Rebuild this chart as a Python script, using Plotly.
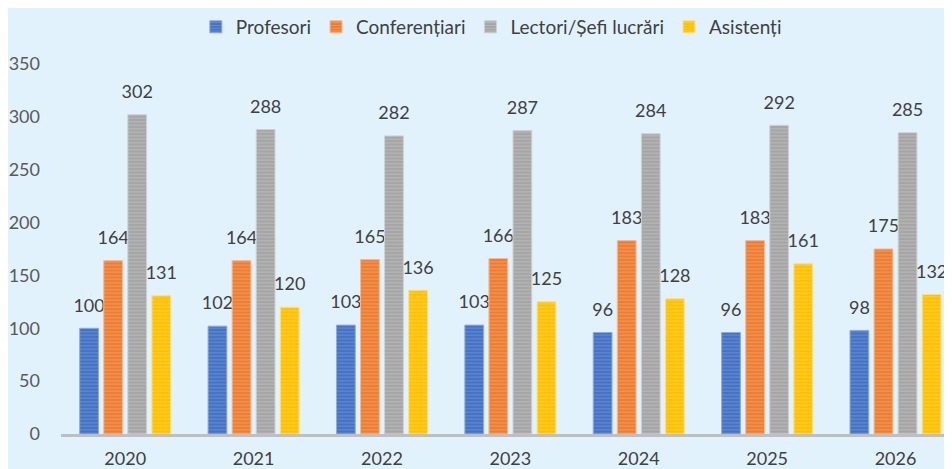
import plotly.graph_objects as go

years = ["2020", "2021", "2022", "2023", "2024", "2025", "2026"]
profesori = [100, 102, 103, 103, 96, 96, 98]
conferentiari = [164, 164, 165, 166, 183, 183, 175]
lectori = [302, 288, 282, 287, 284, 292, 285]
asistenti = [131, 120, 136, 125, 128, 161, 132]

series = [
    ("Profesori", profesori, "#4472C4", "#8FAADC"),
    ("Conferențiari", conferentiari, "#ED7D31", "#F8B990"),
    ("Lectori/Șefi lucrări", lectori, "#A5A5A5", "#D0D0D0"),
    ("Asistenți", asistenti, "#FFC000", "#FFE080"),
]

fig = go.Figure()
for name, vals, col, light in series:
    fig.add_trace(go.Bar(
        x=years, y=vals, name=name,
        # small base font + blank second line lifts the label a bit off the bar
        texttemplate="<span style='font-size:18px'>%{y}</span><br> ",
        textposition="outside",
        constraintext="none",
        textfont=dict(size=9, color="#404040"),
        cliponaxis=False,
        marker=dict(
            color=col,
            line=dict(color=light, width=1),
            pattern=dict(shape="-", fillmode="overlay", fgcolor=light,
                         size=3.5, solidity=0.3),
        ),
    ))

# page body has an 8px margin, so the figure is 8px smaller than the window
fig.update_layout(
    width=944, height=461,
    barmode="group",
    bargap=0.25, bargroupgap=0.22,
    paper_bgcolor="#E2F2FC", plot_bgcolor="#E2F2FC",
    font=dict(family="Lato, 'Open Sans', sans-serif", color="#595959"),
    margin=dict(l=53, r=0, t=56, b=35, autoexpand=False),
    legend=dict(orientation="h", x=0.483, xanchor="center", y=1.0, yanchor="top",
                yref="container", font=dict(size=19, color="#404040"),
                itemwidth=30, traceorder="normal"),
    showlegend=True,
)
fig.update_xaxes(showgrid=False, showline=True, linecolor="#BFBFBF", linewidth=3,
                 tickfont=dict(size=18, color="#404040"), ticks="",
                 range=[-0.5, 6.44], automargin=False, ticklabelstandoff=6)
fig.update_yaxes(range=[0, 350], dtick=50, showgrid=False, zeroline=False,
                 tickfont=dict(size=18, color="#595959"), ticks="",
                 ticklabelstandoff=20, automargin=False)

fig.write_html("out.html")
